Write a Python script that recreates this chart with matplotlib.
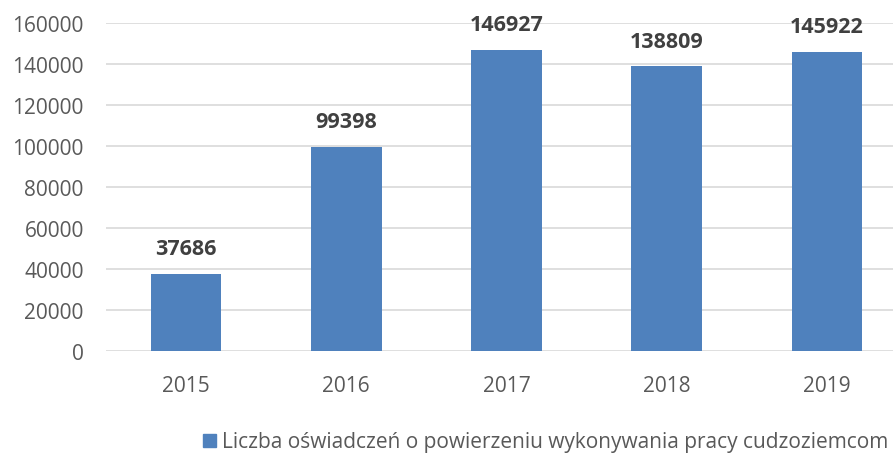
import matplotlib
matplotlib.use("Agg")
import matplotlib.pyplot as plt
from matplotlib.patches import Patch

years = ["2015", "2016", "2017", "2018", "2019"]
values = [37686, 99398, 146927, 138809, 145922]
series_name = "Liczba oświadczeń o powierzeniu wykonywania pracy cudzoziemcom"
yticks = [0, 20000, 40000, 60000, 80000, 100000, 120000, 140000, 160000]

plt.rcParams['font.family'] = ['Open Sans', 'DejaVu Sans']
bar_color = "#4F81BD"
text_color = "#595959"
label_color = "#404040"

fig = plt.figure(figsize=(8.93, 4.56), dpi=100)
ax = fig.add_axes([106/893, 1-352/456, 801/893, (352-24)/456])

x = range(len(years))
bars = ax.bar(x, values, width=0.44, color=bar_color, zorder=3)
ax.set_xlim(-0.5, len(years)-0.5)
ax.set_ylim(0, 160000)
ax.set_yticks(yticks)
ax.set_yticklabels([str(v) for v in yticks])
ax.set_xticks(list(x))
ax.set_xticklabels(years)
ax.grid(axis='y', color="#D9D9D9", linewidth=1.2, zorder=0)
for s in ax.spines.values():
    s.set_visible(False)
ax.tick_params(axis='both', length=0, labelsize=15, labelcolor=text_color)
ax.tick_params(axis='y', pad=16)
ax.tick_params(axis='x', pad=17)

for xi, v in zip(x, values):
    ax.annotate(str(v), (xi, v), xytext=(0, 20), textcoords='offset points',
                ha='center', va='center_baseline', fontsize=15.5, fontweight='bold',
                color=label_color)

fig.legend(handles=[Patch(color=bar_color)], labels=[series_name],
           loc='center', bbox_to_anchor=(546/893, 1-443/456), frameon=False,
           fontsize=15, handlelength=0.6, handleheight=0.6, handletextpad=0.3,
           labelcolor=text_color)

fig.savefig("out.png", dpi=100)
